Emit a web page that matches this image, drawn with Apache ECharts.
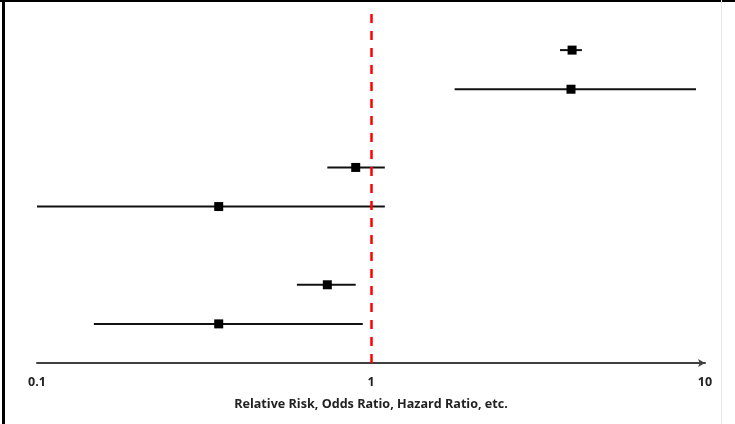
<!DOCTYPE html>
<html>
<head>
<meta charset="utf-8">
<script src="https://cdn.jsdelivr.net/npm/echarts@6/dist/echarts.min.js"></script>
<style>
html,body{margin:0;padding:0;background:#fff;}
#wrap{position:relative;width:735px;height:424px;overflow:hidden;}
#chart{position:absolute;left:0;top:0;width:735px;height:424px;}
.b{position:absolute;}
</style>
</head>
<body>
<div id="wrap">
<div id="chart"></div>
<div class="b" style="left:0;top:0;width:721px;height:2px;background:#000"></div>
<div class="b" style="left:722px;top:0;width:13px;height:2px;background:#000"></div>
<div class="b" style="left:2px;top:0;width:3px;height:424px;background:#000"></div>
<div class="b" style="left:721px;top:0;width:1px;height:424px;background:#e6e6e6"></div>
</div>
<script>
// Study rows (y position slot), point estimates and confidence intervals
const rowPos   = [8, 7, 5, 4, 2, 1];
const estimate = [4.0, 3.97, 0.9, 0.35, 0.74, 0.35];
const ciLow    = [3.68, 1.78, 0.74, 0.1, 0.6, 0.148];
const ciHigh   = [4.28, 9.4, 1.1, 1.1, 0.9, 0.945];
const tickValues = [0.1, 1, 10];
const tickLabels = ['0.1', '1', '10'];
const axisTitle = 'Relative Risk, Odds Ratio, Hazard Ratio, etc.';
const refValue = 1;

const chart = echarts.init(document.getElementById('chart'), null, {renderer: 'canvas'});
const data = rowPos.map((y, i) => [estimate[i], y, ciLow[i], ciHigh[i]]);
const font = '"Open Sans", "Liberation Sans", sans-serif';

chart.setOption({
  animation: false,
  grid: {left: 37, right: 30, top: 11, bottom: 61},
  xAxis: {
    type: 'log', logBase: 10, min: 0.1, max: 10,
    name: axisTitle, nameLocation: 'middle', nameGap: 35,
    nameTextStyle: {fontFamily: font, fontWeight: 'bold', fontSize: 12.6, color: '#222'},
    axisLine: {show: true, lineStyle: {color: '#404040', width: 2}, symbol: ['none', 'arrow'], symbolSize: [6, 7], symbolOffset: [0, 0]},
    axisTick: {show: false},
    splitLine: {show: false},
    axisLabel: {
      margin: 13, fontFamily: font, fontWeight: 'bold', fontSize: 12.5, color: '#222',
      formatter: v => { const i = tickValues.findIndex(t => Math.abs(t - v) < 1e-9); return i >= 0 ? tickLabels[i] : ''; }
    }
  },
  yAxis: {type: 'value', min: 0, max: 9, show: false},
  series: [
    {
      type: 'custom',
      data: data,
      encode: {x: [0, 2, 3], y: 1},
      renderItem: (params, api) => {
        const y = api.value(1);
        const p0 = api.coord([api.value(2), y]);
        const p1 = api.coord([api.value(3), y]);
        const c = api.coord([api.value(0), y]);
        return {type: 'group', children: [
          {type: 'line', shape: {x1: p0[0], y1: p0[1], x2: p1[0], y2: p1[1]}, style: {stroke: '#111', lineWidth: 2}},
          {type: 'rect', shape: {x: c[0] - 4.5, y: c[1] - 4.5, width: 9, height: 9}, style: {fill: '#000'}}
        ]};
      },
      markLine: {
        silent: true, symbol: ['none', 'none'],
        label: {show: false},
        lineStyle: {color: '#ff0000', width: 2.5, type: [9, 8]},
        data: [{xAxis: refValue}]
      }
    }
  ]
});
</script>
</body>
</html>
